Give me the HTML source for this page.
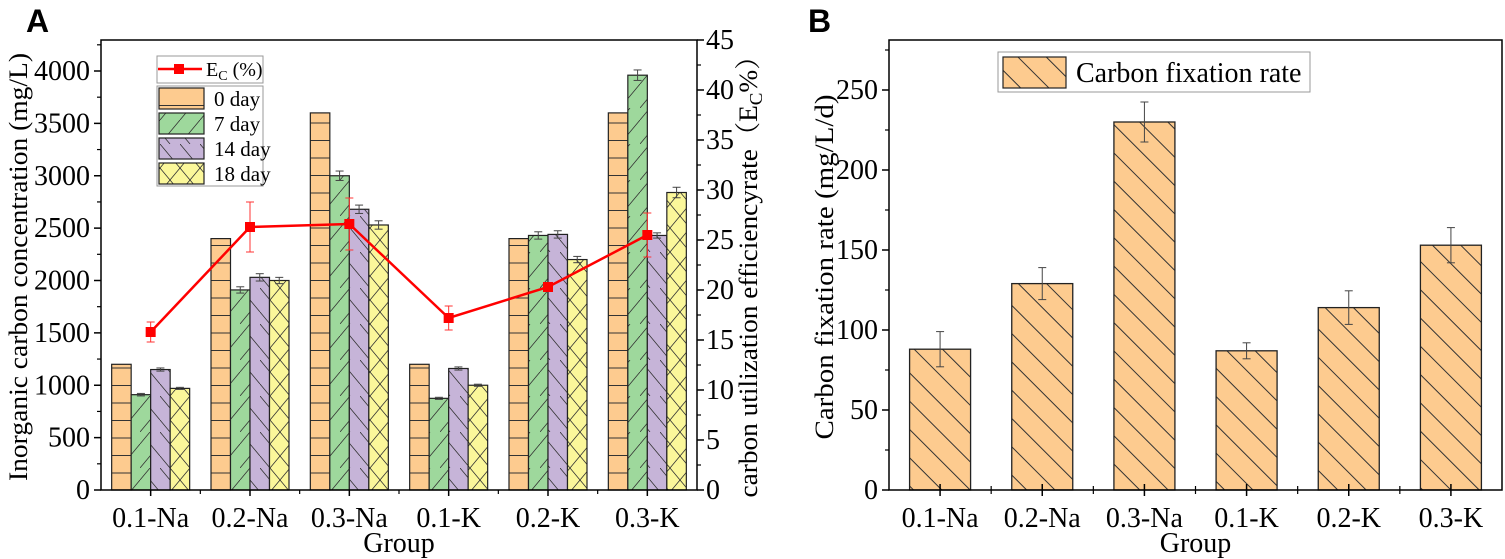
<!DOCTYPE html>
<html><head><meta charset="utf-8">
<style>
html,body{margin:0;padding:0;background:#fff;}
svg{display:block;}
text{font-family:"Liberation Serif",serif;}
</style></head>
<body>
<svg id="s" width="1505" height="559" viewBox="0 0 1505 559" xmlns="http://www.w3.org/2000/svg">
<defs>
<pattern id="pO" width="20" height="17.5" patternUnits="userSpaceOnUse"><rect width="20" height="17.5" fill="#FDCB8F"/><line x1="0" y1="0.5" x2="20" y2="0.5" stroke="#333" stroke-width="1"/></pattern>
<pattern id="pG" width="20" height="36" patternUnits="userSpaceOnUse"><rect width="20" height="36" fill="#9ED89C"/><line x1="0" y1="36" x2="20" y2="12" stroke="#333" stroke-width="0.8"/><line x1="0" y1="12" x2="10" y2="0" stroke="#333" stroke-width="0.8"/></pattern>
<pattern id="pP" width="20" height="36" patternUnits="userSpaceOnUse"><rect width="20" height="36" fill="#C6B4D8"/><line x1="0" y1="0" x2="20" y2="24" stroke="#333" stroke-width="0.8"/><line x1="0" y1="24" x2="10" y2="36" stroke="#333" stroke-width="0.8"/></pattern>
<pattern id="pY" width="20" height="24" patternUnits="userSpaceOnUse"><rect width="20" height="24" fill="#FBF79A"/><line x1="0" y1="0" x2="20" y2="24" stroke="#333" stroke-width="0.8"/><line x1="20" y1="0" x2="0" y2="24" stroke="#333" stroke-width="0.8"/></pattern>
<pattern id="pR" width="20" height="20" patternUnits="userSpaceOnUse" patternTransform="rotate(45)"><rect width="20" height="20" fill="#FDCB8F"/><line x1="0" y1="0.5" x2="20" y2="0.5" stroke="#333" stroke-width="0.9"/></pattern>
</defs>
<g id="g"></g>
<text x="26" y="32" style="font-family:'Liberation Sans',sans-serif" font-weight="bold" font-size="32">A</text>
<text x="808" y="32" style="font-family:'Liberation Sans',sans-serif" font-weight="bold" font-size="32">B</text>
</svg>
<script>
var g=document.getElementById('g'),h='';
var SF='font-family="Liberation Serif, serif"';
function L(x1,y1,x2,y2,c,w){h+='<line x1="'+x1+'" y1="'+y1+'" x2="'+x2+'" y2="'+y2+'" stroke="'+(c||'#000')+'" stroke-width="'+(w||1.5)+'"/>';}
function R(x,y,w,hh,f,sw){h+='<rect x="'+x+'" y="'+y+'" width="'+w+'" height="'+hh+'" fill="'+f+'" stroke="#222" stroke-width="'+(sw||1.3)+'"/>';}
function T(x,y,s,fs,a,extra){h+='<text '+SF+' x="'+x+'" y="'+y+'" font-size="'+(fs||22)+'" text-anchor="'+(a||'middle')+'" '+(extra||'')+'>'+s+'</text>';}
function E(x,y1,y2,c){L(x,y1,x,y2,c,1);L(x-4,y1,x+4,y1,c,1);L(x-4,y2,x+4,y2,c,1);}
var groups=['0.1-Na','0.2-Na','0.3-Na','0.1-K','0.2-K','0.3-K'];
var X0=101,X1=697,Y0=490,YT=40,pitch=(X1-X0)/6;
function yl(v){return Y0-v*0.10475;}
function yr(v){return Y0-v*10;}
var data=[[1200,910,1150,970],[2400,1910,2030,2000],[3600,3000,2680,2530],[1200,875,1160,1000],[2400,2430,2440,2200],[3600,3960,2430,2840]];
var errs=[[0,12,15,10],[0,30,35,30],[0,45,40,40],[0,10,15,10],[0,35,35,30],[0,50,25,50]];
var pats=['url(#pO)','url(#pG)','url(#pP)','url(#pY)'];
for(var i=0;i<6;i++){var c=X0+pitch*(i+0.5);var bw=19.5;
 for(var j=0;j<4;j++){var x=c-2*bw+j*bw;var y=yl(data[i][j]);R(x,y,bw,Y0-y,pats[j],1.2);
  if(errs[i][j])E(x+bw/2,yl(data[i][j]+errs[i][j]),yl(data[i][j]-errs[i][j]),'#444');}
}
h+='<rect x="'+X0+'" y="'+YT+'" width="'+(X1-X0)+'" height="'+(Y0-YT)+'" fill="none" stroke="#000" stroke-width="1.5"/>';
for(var v=0;v<=4000;v+=500){var y=yl(v);L(X0-7,y,X0,y);T(X0-11,y+9,v,28,'end');if(v<4000)L(X0-4,yl(v+250),X0,yl(v+250),'#000',1.2);}
L(X0-4,yl(4250),X0,yl(4250),'#000',1.2);
for(var v=0;v<=45;v+=5){var y=yr(v);L(X1,y,X1+7,y);T(X1+9,y+9,v,28,'start');if(v<45)L(X1,yr(v+2.5),X1+4,yr(v+2.5),'#000',1.2);}
for(var i=0;i<6;i++){var c=X0+pitch*(i+0.5);L(c,Y0,c,Y0+6);T(c,Y0+37,groups[i],28);if(i<5)L(X0+pitch*(i+1),Y0,X0+pitch*(i+1),Y0+4,'#000',1.2);}
T((X0+X1)/2,Y0+62,'Group',28);
h+='<text '+SF+' transform="translate(27,267) rotate(-90)" font-size="26" text-anchor="middle" textLength="428" lengthAdjust="spacingAndGlyphs">Inorganic carbon concentration (mg/L)</text>';
h+='<text transform="translate(757,270) rotate(-90)" font-size="26" text-anchor="middle" textLength="455" lengthAdjust="spacingAndGlyphs" style="font-family:\'Liberation Serif\',\'Noto Serif CJK SC\',serif">carbon utilization efficiencyrate（E<tspan font-size="18" dy="5">C</tspan><tspan dy="-5">%）</tspan></text>';
var ec=[15.8,26.3,26.6,17.2,20.3,25.5],ee=[1,2.5,2.6,1.2,0.3,2.2];var pts=[];
for(var i=0;i<6;i++){var c=X0+pitch*(i+0.5);pts.push(c+','+yr(ec[i]));E(c,yr(ec[i]+ee[i]),yr(ec[i]-ee[i]),'#f33');}
h+='<polyline points="'+pts.join(' ')+'" fill="none" stroke="#f00" stroke-width="2.5"/>';
for(var i=0;i<6;i++){var c=X0+pitch*(i+0.5);h+='<rect x="'+(c-5)+'" y="'+(yr(ec[i])-5)+'" width="10" height="10" fill="#f00"/>';}
h+='<rect x="157" y="56" width="106" height="27" fill="#fff" stroke="#999" stroke-width="1"/>';
L(158,69,202,69,'#f00',2.5);h+='<rect x="174" y="64" width="10" height="10" fill="#f00"/>';
h+='<text '+SF+' x="206" y="76" font-size="20">E<tspan font-size="14" dy="4">C</tspan><tspan dy="-4"> (%)</tspan></text>';
h+='<rect x="157" y="86" width="106" height="100" fill="#fff" stroke="#999" stroke-width="1"/>';
var ln=['0 day','7 day','14 day','18 day'];
for(var j=0;j<4;j++){var y=88+j*25;R(159,y,45,21,pats[j],1.2);T(214,y+18,ln[j],21,'start');}
var RX0=889,RX1=1502,RY0=490,RYT=40,rp=(RX1-RX0)/6;
function y2(v){return RY0-v*1.6;}
var rd=[88,129,230,87,114,153],re=[11,10,12.5,5,10.5,11];
for(var i=0;i<6;i++){var c=RX0+rp*(i+0.5);var y=y2(rd[i]);R(c-30.5,y,61,RY0-y,'url(#pR)',1.3);E(c,y2(rd[i]+re[i]),y2(rd[i]-re[i]),'#444');}
h+='<rect x="'+RX0+'" y="'+RYT+'" width="'+(RX1-RX0)+'" height="'+(RY0-RYT)+'" fill="none" stroke="#000" stroke-width="1.5"/>';
for(var v=0;v<=250;v+=50){var y=y2(v);L(RX0-7,y,RX0,y);T(RX0-11,y+9,v,28,'end');L(RX0-4,y2(v+25),RX0,y2(v+25),'#000',1.2);}
for(var i=0;i<6;i++){var c=RX0+rp*(i+0.5);L(c,RY0,c,RY0+6);L(c,RY0,c,RY0-6);T(c,RY0+37,groups[i],28);if(i<5){L(RX0+rp*(i+1),RY0,RX0+rp*(i+1),RY0+4,'#000',1.2);L(RX0+rp*(i+1),RY0,RX0+rp*(i+1),RY0-4,'#000',1.2);}}
T((RX0+RX1)/2,RY0+62,'Group',28);
h+='<text '+SF+' transform="translate(833,267) rotate(-90)" font-size="26" text-anchor="middle" textLength="345" lengthAdjust="spacingAndGlyphs">Carbon fixation rate (mg/L/d)</text>';
h+='<rect x="998" y="52" width="312" height="40" fill="#fff" stroke="#999" stroke-width="1"/>';
R(1003,57,63,31,'url(#pR)',1.2);T(1076,82,'Carbon fixation rate',28,'start');
g.innerHTML=h;
</script>
</body></html>
